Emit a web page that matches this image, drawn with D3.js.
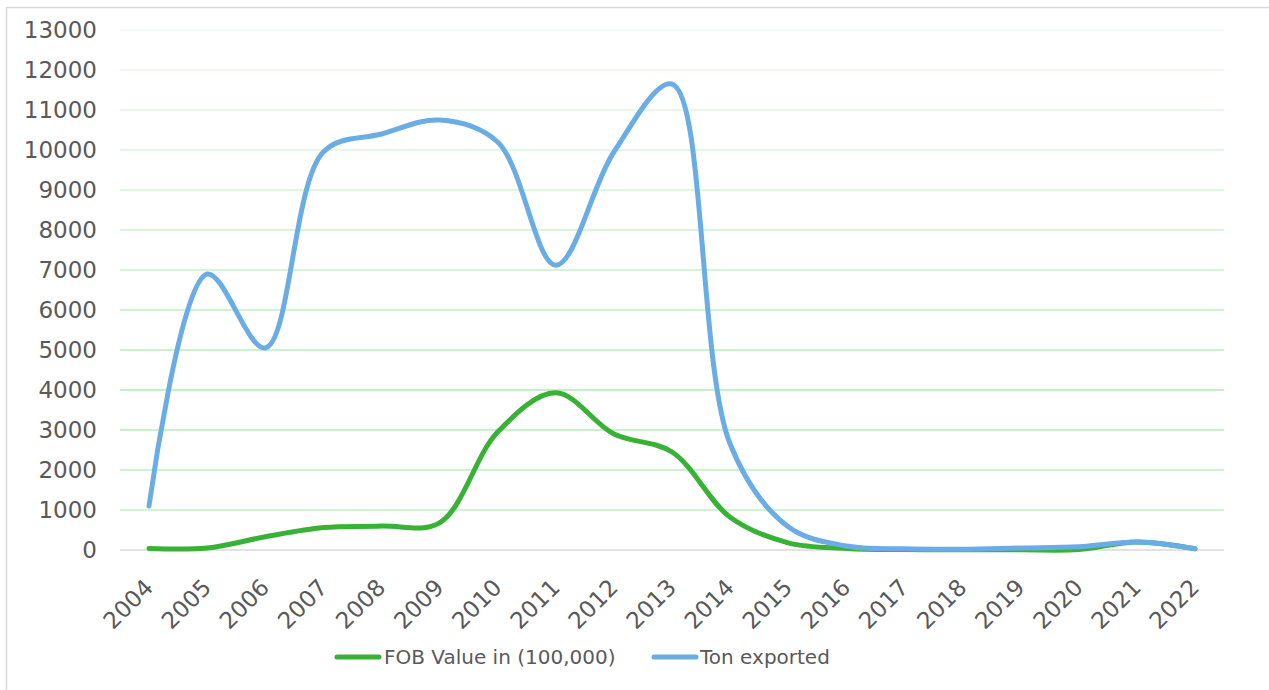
<!DOCTYPE html>
<html>
<head>
<meta charset="utf-8">
<script src="https://cdn.jsdelivr.net/npm/d3@7"></script>
<style>
  html, body { margin: 0; padding: 0; background: #fff; }
  svg { display: block; }
  text { font-family: "DejaVu Sans", Verdana, sans-serif; fill: #595959; }
</style>
</head>
<body>
<svg id="chart" width="1269" height="690"></svg>
<script>
const years = ["2004","2005","2006","2007","2008","2009","2010","2011","2012","2013","2014","2015","2016","2017","2018","2019","2020","2021","2022"];
const fobValue = [40, 50, 330, 560, 600, 680, 2950, 3930, 2900, 2450, 820, 180, 40, 10, 5, 5, 10, 200, 30];
const tonExported = [1100, 6900, 5050, 9950, 10400, 10750, 10200, 7120, 9950, 11650, 2650, 580, 100, 30, 20, 50, 80, 200, 30];
const yTicks = [0,1000,2000,3000,4000,5000,6000,7000,8000,9000,10000,11000,12000,13000];
const seriesNames = ["FOB Value in (100,000)", "Ton exported"];
const seriesColors = ["#37b234", "#6aade4"];

const svg = d3.select("#chart");

// outer border
svg.append("rect").attr("x", 6.5).attr("y", 7.5).attr("width", 1300).attr("height", 700)
  .attr("fill", "none").attr("stroke", "#d9d9d9").attr("stroke-width", 1.5);

const x = d3.scalePoint().domain(years).range([149, 1195]);
const y = d3.scaleLinear().domain([0, 13000]).range([550, 30]);
const gridLeft = 120, gridRight = 1224;

const gridColor = d3.scaleLinear().domain([1000, 4000, 13000]).range(["#c4eec4", "#b5eab5", "#eefaee"]);

// gridlines
svg.append("g").selectAll("line").data(yTicks.filter(d => d > 0)).join("line")
  .attr("x1", gridLeft).attr("x2", gridRight)
  .attr("y1", d => y(d)).attr("y2", d => y(d))
  .attr("stroke", d => gridColor(d)).attr("stroke-width", 1.5);

// baseline
svg.append("line").attr("x1", gridLeft).attr("x2", gridRight)
  .attr("y1", y(0)).attr("y2", y(0)).attr("stroke", "#d9d9d9").attr("stroke-width", 1.5);

// y axis labels
const yAxis = d3.axisLeft(y).tickValues(yTicks).tickSize(0).tickPadding(0).tickFormat(d3.format("d"));
const gy = svg.append("g").attr("transform", "translate(97,0)").call(yAxis);
gy.select(".domain").remove();
gy.selectAll("text").attr("font-size", 23).style("fill", "#595959")
  .attr("font-family", "DejaVu Sans, Verdana, sans-serif");

// x axis labels
const xAxis = d3.axisBottom(x).tickSize(0).tickPadding(0);
const gx = svg.append("g").attr("transform", "translate(0,550)").call(xAxis);
gx.select(".domain").remove();
gx.selectAll("text").attr("font-size", 23).style("fill", "#595959")
  .attr("font-family", "DejaVu Sans, Verdana, sans-serif")
  .attr("text-anchor", "end").attr("dy", 0)
  .attr("transform", "translate(5,39) rotate(-45)").attr("y", 0).attr("x", 0);

// lines
const line = d3.line().x((d, i) => x(years[i])).y(d => y(d)).curve(d3.curveCatmullRom.alpha(0.5));
const series = [fobValue, tonExported];
svg.append("g").selectAll("path").data(series).join("path")
  .attr("d", d => line(d)).attr("fill", "none")
  .attr("stroke", (d, i) => seriesColors[i]).attr("stroke-width", 5)
  .attr("stroke-linecap", "round").attr("stroke-linejoin", "round");

// legend
const legendItems = [{x: 337, tx: 384}, {x: 654, tx: 700}];
const lg = svg.append("g");
seriesNames.forEach((name, i) => {
  lg.append("line").attr("x1", legendItems[i].x).attr("x2", legendItems[i].x + 42)
    .attr("y1", 657).attr("y2", 657).attr("stroke", seriesColors[i])
    .attr("stroke-width", 5).attr("stroke-linecap", "round");
  lg.append("text").attr("x", legendItems[i].tx).attr("y", 657).attr("dy", "0.36em")
    .attr("font-size", 20).text(name);
});
</script>
</body>
</html>
